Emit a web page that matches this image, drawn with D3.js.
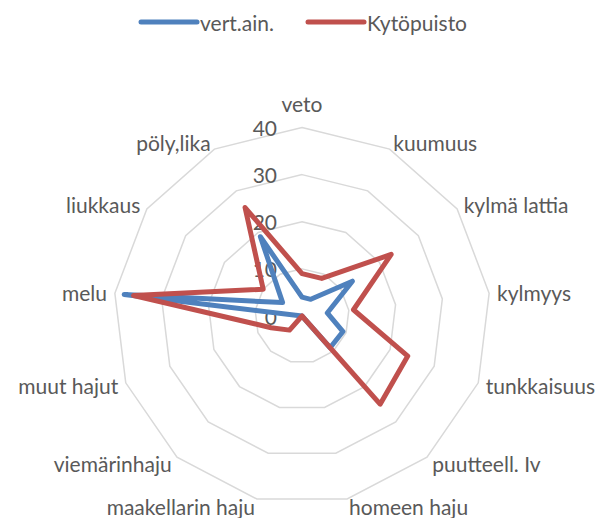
<!DOCTYPE html>
<html>
<head>
<meta charset="utf-8">
<script src="https://cdn.jsdelivr.net/npm/d3@7"></script>
<style>
  body { margin: 0; background: #fff; }
  text { font-family: Lato, "Open Sans", sans-serif; fill: #595959; }
</style>
</head>
<body>
<svg id="chart" width="604" height="518"></svg>
<script>
// categories, clockwise from the top
var categories = ["veto", "kuumuus", "kylmä lattia", "kylmyys", "tunkkaisuus",
  "puutteell. Iv", "homeen haju", "maakellarin haju", "viemärinhaju",
  "muut hajut", "melu", "liukkaus", "pöly,lika"];
var seriesNames = ["vert.ain.", "Kytöpuisto"];
var vertAin = [4, 4, 13, 5.4, 9.3, 9, 0, 0, 0, 0, 38, 5, 19];
var kytopuisto = [9, 9, 23, 11, 24, 25, 0, 0, 4, 7, 36, 10, 26];
var ticks = [0, 10, 20, 30, 40];
var colors = ["#4F81BD", "#C0504D"];

var svg = d3.select("#chart");
var cx = 302, cy = 316, R = 188.5;
var fontSize = "21px";

var r = d3.scaleLinear().domain([0, 40]).range([0, R]);
var angle = d3.scaleLinear().domain([0, categories.length]).range([0, 2 * Math.PI]);

function pt(i, v) {
  var a = angle(i);
  return [cx + r(v) * Math.sin(a), cy - r(v) * Math.cos(a)];
}

// grid rings
var grid = svg.append("g");
ticks.slice(1).forEach(function(t) {
  var ring = categories.map(function(c, i) { return pt(i, t); });
  grid.append("path")
    .attr("d", d3.line()(ring) + "Z")
    .attr("fill", "none")
    .attr("stroke", "#D9D9D9")
    .attr("stroke-width", 1.5);
});

// tick labels
svg.append("g").selectAll("text")
  .data(ticks).enter().append("text")
  .attr("x", cx - 25)
  .attr("y", function(d) { return cy - r(d); })
  .attr("text-anchor", "end")
  .attr("dominant-baseline", "central")
  .style("font-size", fontSize)
  .text(function(d) { return d; });

// category labels
svg.append("g").selectAll("text")
  .data(categories).enter().append("text")
  .attr("x", function(d, i) { return cx + (R + 8) * Math.sin(angle(i)); })
  .attr("y", function(d, i) {
    var y = cy - (R + 8) * Math.cos(angle(i));
    return Math.abs(Math.sin(angle(i))) < 0.1 ? y - 16 : y;
  })
  .attr("text-anchor", function(d, i) {
    var s = Math.sin(angle(i));
    return s > 0.1 ? "start" : (s < -0.1 ? "end" : "middle");
  })
  .attr("dominant-baseline", "central")
  .style("font-size", fontSize)
  .text(function(d) { return d; });

// series
var radarLine = d3.line()
  .x(function(d, i) { return pt(i, d)[0]; })
  .y(function(d, i) { return pt(i, d)[1]; })
  .curve(d3.curveLinearClosed);

[vertAin, kytopuisto].forEach(function(values, k) {
  svg.append("path")
    .attr("d", radarLine(values))
    .attr("fill", "none")
    .attr("stroke", colors[k])
    .attr("stroke-width", 5)
    .attr("stroke-linejoin", "round")
    .attr("stroke-linecap", "round");
});

// legend
var legendX = [141, 308];
var legend = svg.append("g");
seriesNames.forEach(function(name, k) {
  legend.append("line")
    .attr("x1", legendX[k]).attr("x2", legendX[k] + 56)
    .attr("y1", 22).attr("y2", 22)
    .attr("stroke", colors[k])
    .attr("stroke-width", 5)
    .attr("stroke-linecap", "round");
  legend.append("text")
    .attr("x", legendX[k] + 59)
    .attr("y", 22)
    .attr("dominant-baseline", "central")
    .style("font-size", fontSize)
    .text(name);
});
</script>
</body>
</html>
